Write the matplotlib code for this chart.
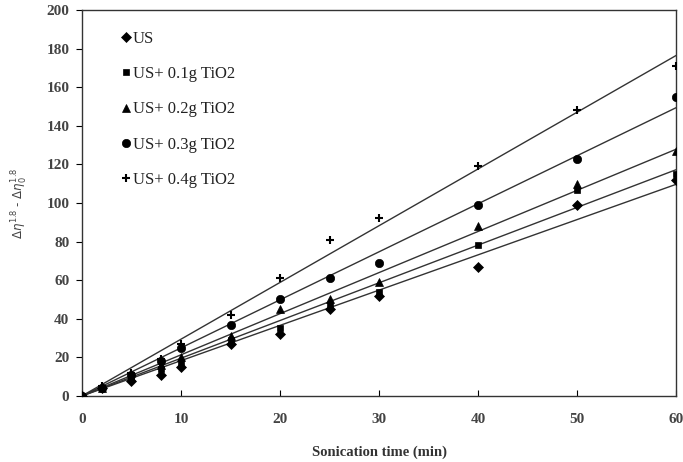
import numpy as np
import matplotlib.pyplot as plt

# Data
time_min = [0, 2, 5, 8, 10, 15, 20, 25, 30, 40, 50, 60]
us = [0, 4, 8, 11, 15, 27, 32, 45, 52, 67, 99, 112]
us_01 = [0, 4, 9, 14, 17, 29, 35, 47, 54, 78, 107, 115]
us_02 = [0, 4, 10, 16, 20, 31, 45, 50, 59, 88, 110, 127]
us_03 = [0, 4, 11, 18, 25, 37, 50, 61, 69, 99, 123, 155]
us_04 = [0, 5, 12, 19, 27, 42, 61, 81, 92, 119, 148, 171]

labels = ["US", "US+ 0.1g TiO2", "US+ 0.2g TiO2", "US+ 0.3g TiO2", "US+ 0.4g TiO2"]
series = [us, us_01, us_02, us_03, us_04]
markers = ["D", "s", "^", "o", "+"]
sizes = [5, 5, 6, 6, 6]

plt.rcParams['font.family'] = ['Liberation Serif', 'DejaVu Serif']

fig = plt.figure(figsize=(6.83, 4.62), dpi=100)
ax = fig.add_axes([0.12, 0.143, 0.87, 0.835])

x = np.array(time_min, dtype=float)
xx = np.array([0, 60])
for lab, y, m, s in zip(labels, series, markers, sizes):
    y = np.array(y, dtype=float)
    # linear trendline through the origin
    slope = np.sum(x * y) / np.sum(x * x)
    ax.plot(xx, slope * xx, color="#333333", lw=1.0, zorder=2)
    ax.plot(x, y, linestyle="none", marker=m, ms=s, color="black",
            markeredgewidth=1.5 if m == "+" else 0.5, label=lab, zorder=3)

ax.set_xlim(0, 60)
ax.set_ylim(0, 200)
ax.set_xticks(range(0, 61, 10))
ax.set_yticks(range(0, 201, 20))
ax.tick_params(axis="x", direction="in", length=4, pad=12, labelsize=11, labelcolor="#444444")
ax.tick_params(axis="y", direction="out", length=4, pad=5, labelsize=11, labelcolor="#444444")
for t in ax.get_xticklabels() + ax.get_yticklabels():
    t.set_fontweight("bold")
for sp in ax.spines.values():
    sp.set_color("#333333")
    sp.set_linewidth(1.0)

ax.set_xlabel("Sonication time (min)", fontsize=10.5, fontweight="bold", color="#333333", labelpad=14)
ax.set_ylabel(r"$\Delta\eta^{1.8}$ - $\Delta\eta_0^{1.8}$", fontsize=8.5, color="#444444",
              family="DejaVu Sans", labelpad=12)

leg = ax.legend(loc="upper left", bbox_to_anchor=(0.055, 0.963), frameon=False,
                fontsize=12, labelspacing=1.15, handlelength=0.6, handletextpad=0.1,
                borderaxespad=0)
for t in leg.get_texts():
    t.set_color("#222222")

fig.savefig("out.png", dpi=100)
